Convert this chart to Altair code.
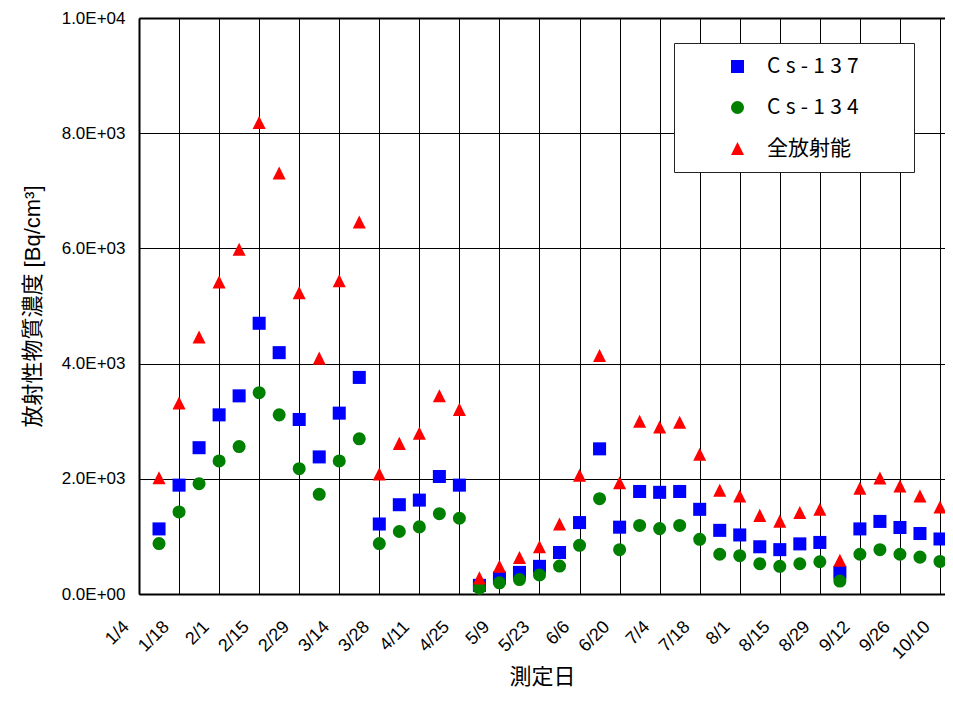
import altair as alt
import pandas as pd

YEAR = 2016

# measurement dates (weekly)
dates = ["1/11", "1/18", "1/25", "2/1", "2/8", "2/15", "2/22", "2/29", "3/7", "3/14",
         "3/21", "3/28", "4/4", "4/11", "4/18", "4/25", "5/2", "5/9", "5/16", "5/23",
         "5/30", "6/6", "6/13", "6/20", "6/27", "7/4", "7/11", "7/18", "7/25", "8/1",
         "8/8", "8/15", "8/22", "8/29", "9/5", "9/12", "9/19", "9/26", "10/3", "10/10"]

cs137 = [1130, 1890, 2540, 3110, 3440, 4700, 4190, 3030, 2380, 3140,
         3760, 1215, 1550, 1630, 2040, 1890, 150, 280, 375, 480,
         720, 1240, 2520, 1160, 1780, 1765, 1780, 1470, 1105, 1025,
         820, 770, 870, 895, 375, 1130, 1260, 1155, 1050, 955]

cs134 = [875, 1425, 1915, 2310, 2560, 3495, 3110, 2175, 1730, 2310,
         2695, 875, 1085, 1165, 1395, 1315, 100, 195, 250, 330,
         485, 845, 1655, 770, 1190, 1135, 1190, 950, 690, 665,
         525, 480, 525, 560, 225, 690, 770, 690, 640, 565]

total = [2020, 3315, 4460, 5415, 5985, 8185, 7310, 5230, 4095, 5440,
         6460, 2085, 2615, 2790, 3440, 3205, 280, 480, 635, 820,
         1215, 2060, 4140, 1930, 3000, 2900, 2980, 2425, 1800, 1700,
         1365, 1265, 1415, 1470, 585, 1835, 2015, 1875, 1700, 1510]

series_names = ["C\u2005s\u2005-\u20051\u20053\u20057",
                "C\u2005s\u2005-\u20051\u20053\u20054",
                "全放射能"]
series_colors = ["#0000FF", "#008000", "#FF0000"]
series_shapes = ["square", "circle", "M0,-1L1,1L-1,1Z"]

x_tick_labels = ["1/4", "1/18", "2/1", "2/15", "2/29", "3/14", "3/28", "4/11", "4/25",
                 "5/9", "5/23", "6/6", "6/20", "7/4", "7/18", "8/1", "8/15", "8/29",
                 "9/12", "9/26", "10/10"]
y_ticks = [0, 2000, 4000, 6000, 8000, 10000]


def iso(md):
    m, d = md.split("/")
    return f"{YEAR}-{int(m):02d}-{int(d):02d}T00:00:00"


def dt(md, hours=0):
    m, d = md.split("/")
    return alt.DateTime(year=YEAR, month=int(m), date=int(d), hours=hours)


rows = []
for name, vals in zip(series_names, [cs137, cs134, total]):
    for d, v in zip(dates, vals):
        rows.append({"date": iso(d), "series": name, "value": v})
df = pd.DataFrame(rows)

LATIN = "Liberation Sans"
MIXED = "Liberation Sans, Noto Sans CJK JP"

# trailing ideographic spaces widen the legend box; the zero-width char keeps them from being trimmed
leg = alt.Legend(
    orient="none", legendX=535, legendY=25, title=None,
    strokeColor="#222222", fillColor="white", padding=13, rowPadding=19,
    symbolSize=170, symbolOffset=40, symbolStrokeWidth=0, labelOffset=19,
    labelFont="Noto Sans CJK JP", labelFontSize=21, labelColor="black",
    labelExpr="datum.label == '全放射能' ? datum.label : datum.label + '\u3000\u3000\u200b'",
)

chart = alt.Chart(df).mark_point(filled=True, size=170, opacity=1, strokeWidth=0).encode(
    x=alt.X(
        "date:T",
        scale=alt.Scale(domain=[dt("1/4"), dt("10/11", 18)], nice=False),
        axis=alt.Axis(
            title="測定日", values=[dt(t) for t in x_tick_labels], format="%-m/%-d",
            labelFont=LATIN, labelFontSize=18, labelColor="black",
            labelAngle=-45, labelAlign="right", labelBaseline="middle",
            labelPadding=30, labelOffset=-13, labelOverlap=False, labelFlush=False,
            labelBound=False,
            ticks=False, tickSize=0,
            domainColor="black", domainWidth=2,
            grid=True, gridColor="black", gridWidth=1, gridOpacity=1,
            titleFont=MIXED, titleFontSize=22, titleFontWeight="normal", titleColor="black",
            titleY=82, titleBaseline="middle",
        ),
    ),
    y=alt.Y(
        "value:Q",
        scale=alt.Scale(domain=[0, 10000], nice=False),
        axis=alt.Axis(
            title="放射性物質濃度 [Bq/cm³]", values=y_ticks,
            labelExpr="replace(upper(format(datum.value, '.1e')), 'E+', 'E+0')",
            labelFont=LATIN, labelFontSize=17, labelColor="black", labelPadding=14,
            labelOverlap=False,
            ticks=False, tickSize=0,
            domainColor="black", domainWidth=2,
            grid=True, gridColor="black", gridOpacity=1,
            gridWidth={"condition": {"test": "datum.value === 10000", "value": 2}, "value": 1},
            titleFont=MIXED, titleFontSize=22, titleFontWeight="normal", titleColor="black",
            titleX=-107, titleBaseline="middle",
        ),
    ),
    color=alt.Color("series:N", scale=alt.Scale(domain=series_names, range=series_colors), legend=leg),
    shape=alt.Shape("series:N", scale=alt.Scale(domain=series_names, range=series_shapes), legend=leg),
).properties(
    width=806, height=576,
    autosize=alt.AutoSizeParams(type="none"),
    padding={"left": 131, "top": 10, "right": 0, "bottom": 96},
).configure_view(stroke=None).configure(background="white")

chart.save("out.html", embed_options={"renderer": "svg", "actions": False})
